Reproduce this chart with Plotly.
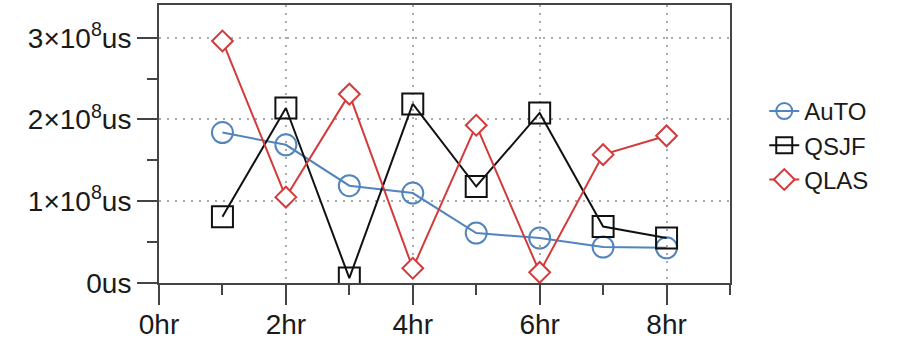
import plotly.graph_objects as go

hours = [1, 2, 3, 4, 5, 6, 7, 8]
auto_vals = [1.84e8, 1.69e8, 1.19e8, 1.10e8, 0.61e8, 0.55e8, 0.44e8, 0.43e8]
qsjf_vals = [0.81e8, 2.14e8, 0.06e8, 2.19e8, 1.18e8, 2.08e8, 0.69e8, 0.55e8]
qlas_vals = [2.96e8, 1.05e8, 2.31e8, 0.18e8, 1.93e8, 0.13e8, 1.57e8, 1.80e8]

y_tickvals = [0, 1e8, 2e8, 3e8]
y_ticktext = ["0us", "1×10<sup>8</sup>us", "2×10<sup>8</sup>us", "3×10<sup>8</sup>us"]
x_tickvals = [0, 2, 4, 6, 8]
x_ticktext = ["0hr", "2hr", "4hr", "6hr", "8hr"]

BLUE = "#5284bd"
BLACK = "#111111"
RED = "#d33a3a"
AXC = "#444444"
FONT = "Liberation Sans, Arial, Helvetica, sans-serif"

fig = go.Figure()
fig.add_trace(go.Scatter(x=hours, y=auto_vals, name="AuTO", mode="lines+markers",
                         line=dict(color=BLUE, width=2),
                         marker=dict(symbol="circle", size=21, color="rgba(255,255,255,0)",
                                     line=dict(color=BLUE, width=2))))
fig.add_trace(go.Scatter(x=hours, y=qsjf_vals, name="QSJF", mode="lines+markers",
                         line=dict(color=BLACK, width=2),
                         marker=dict(symbol="square", size=21, color="rgba(255,255,255,0)",
                                     line=dict(color=BLACK, width=2))))
fig.add_trace(go.Scatter(x=hours, y=qlas_vals, name="QLAS", mode="lines+markers",
                         line=dict(color=RED, width=2),
                         marker=dict(symbol="diamond", size=16, color="white",
                                     line=dict(color=RED, width=2))))

fig.update_layout(
    width=912, height=341,
    margin=dict(l=159, r=182, t=5, b=58, autoexpand=False),
    plot_bgcolor="white", paper_bgcolor="white",
    font=dict(family=FONT, size=28, color="#1a1a1a"),
    showlegend=True,
    legend=dict(x=1.060, y=0.698, xanchor="left", yanchor="top",
                font=dict(size=24, family=FONT, color="#1a1a1a"),
                bgcolor="rgba(0,0,0,0)", tracegroupgap=0, itemwidth=30),
)
fig.update_xaxes(range=[0, 9], tickvals=x_tickvals, ticktext=x_ticktext,
                 automargin=False, ticklabelstandoff=-5,
                 showline=True, linecolor=AXC, linewidth=2, mirror=True,
                 ticks="outside", ticklen=20, tickwidth=2, tickcolor=AXC,
                 showgrid=True, gridcolor="#aaaaaa", griddash="2px,6px", gridwidth=1.5,
                 zeroline=False,
                 minor=dict(tickvals=[1, 3, 5, 7, 9], ticks="outside", ticklen=10,
                            tickwidth=2, tickcolor=AXC, showgrid=False))
fig.update_yaxes(range=[0, 3.4e8], tickvals=y_tickvals, ticktext=y_ticktext,
                 automargin=False,
                 showline=True, linecolor=AXC, linewidth=2, mirror=True,
                 ticks="outside", ticklen=20, tickwidth=2, tickcolor=AXC,
                 showgrid=True, gridcolor="#aaaaaa", griddash="2px,6px", gridwidth=1.5,
                 zeroline=False,
                 minor=dict(tickvals=[0.5e8, 1.5e8, 2.5e8], ticks="outside", ticklen=10,
                            tickwidth=2, tickcolor=AXC, showgrid=False))

fig.write_html("out.html", config={"displayModeBar": False},
               post_script="document.body.style.margin='0';")
